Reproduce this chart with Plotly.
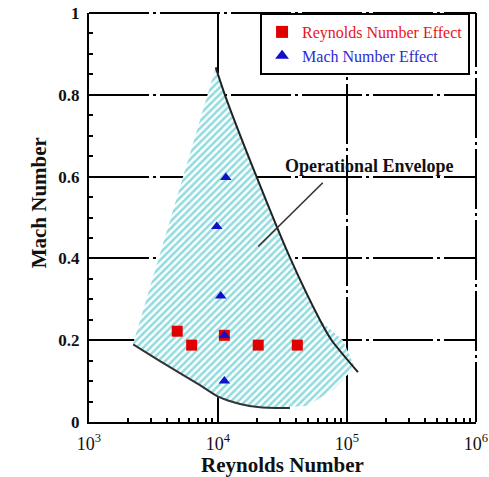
import plotly.graph_objects as go

# Test points
re_reynolds = [4830, 6250, 11200, 20500, 41200]
mach_reynolds = [0.222, 0.188, 0.212, 0.188, 0.188]

re_mach = [11500, 9780, 10500, 11200, 11200]
mach_mach = [0.598, 0.478, 0.308, 0.212, 0.100]

# Operational envelope (closed outline of the hatched region)
env_re = [9600, 11300, 20000, 36000, 61800, 93000, 115000, 78000, 48700,
          21200, 14830, 10050, 7250, 4000, 2200, 9600]
env_mach = [0.867, 0.80, 0.598, 0.403, 0.249, 0.20, 0.134, 0.078, 0.039,
            0.034, 0.042, 0.060, 0.088, 0.139, 0.192, 0.867]

# Boundary curves
upper_re = [9600, 11300, 20000, 36000, 61800, 76000, 121600]
upper_mach = [0.867, 0.80, 0.598, 0.403, 0.249, 0.20, 0.122]
lower_re = [2200, 4000, 7250, 10050, 14830, 21200, 36100]
lower_mach = [0.190, 0.139, 0.090, 0.062, 0.044, 0.036, 0.034]

# Leader line for the envelope label
leader_re = [64900, 20500]
leader_mach = [0.585, 0.429]

x_ticks = [1e3, 1e4, 1e5, 1e6]
x_labels = ["10<sup>3</sup>", "10<sup>4</sup>", "10<sup>5</sup>", "10<sup>6</sup>"]
x_minor = [m * 10 ** d for d in (3, 4, 5) for m in range(2, 10)]
y_ticks = [0, 0.2, 0.4, 0.6, 0.8, 1]
y_labels = ["0", "0.2", "0.4", "0.6", "0.8", "1"]

SERIF = "Liberation Serif"
GRID_DASH = "60px,4px,3px,4px"

fig = go.Figure()

fig.add_trace(go.Scatter(
    x=env_re, y=env_mach, mode="lines", fill="toself",
    line=dict(width=0), fillcolor="white",
    fillpattern=dict(shape="/", fgcolor="#1fb8be", bgcolor="white",
                     size=5, solidity=0.5),
    showlegend=False, hoverinfo="skip"))

fig.add_trace(go.Scatter(
    x=upper_re, y=upper_mach, mode="lines",
    line=dict(color="#222", width=2, shape="spline", smoothing=0.7),
    showlegend=False, hoverinfo="skip"))
fig.add_trace(go.Scatter(
    x=lower_re, y=lower_mach, mode="lines",
    line=dict(color="#333", width=2, shape="spline", smoothing=0.8),
    showlegend=False, hoverinfo="skip"))
fig.add_trace(go.Scatter(
    x=leader_re, y=leader_mach, mode="lines",
    line=dict(color="#333", width=1.6),
    showlegend=False, hoverinfo="skip"))

fig.add_trace(go.Scatter(
    x=re_reynolds, y=mach_reynolds, mode="markers",
    name="<span style='color:#e8141c'>Reynolds Number Effect</span>",
    marker=dict(symbol="square", size=11, color="#e00000")))
fig.add_trace(go.Scatter(
    x=re_mach, y=mach_mach, mode="markers",
    name="<span style='color:#2b2bd0'>Mach Number Effect</span>",
    marker=dict(symbol="triangle-up", size=10, color="#1010c8")))

fig.add_annotation(
    x=5.171, y=0.627, xref="x", yref="y", showarrow=False,
    text="<b>Operational Envelope</b>",
    font=dict(family=SERIF, size=18, color="#111"))

# y-axis title
fig.add_annotation(
    x=-0.165, y=0.535, xref="paper", yref="paper", showarrow=False,
    text="<b>Mach Number</b>", textangle=-90,
    font=dict(family=SERIF, size=21, color="#111"))

# Dashed top and right frame edges
fig.add_shape(type="line", xref="paper", yref="paper", x0=0, x1=1, y0=1, y1=1,
              line=dict(color="black", width=2, dash=GRID_DASH))
fig.add_shape(type="line", xref="paper", yref="paper", x0=1, x1=1, y0=0, y1=1,
              line=dict(color="black", width=2, dash=GRID_DASH))

fig.update_xaxes(
    type="log", range=[3, 6], tickvals=x_ticks, ticktext=x_labels,
    automargin=False,
    showgrid=True, gridcolor="black", gridwidth=2, griddash=GRID_DASH,
    showline=True, linecolor="black", linewidth=2,
    ticks="inside", ticklen=10, tickwidth=2, tickcolor="black",
    ticklabelstandoff=4,
    minor=dict(ticks="inside", ticklen=4, tickwidth=1.5, tickcolor="black",
               tickvals=x_minor, showgrid=False),
    tickfont=dict(family=SERIF, size=18, color="#111"),
    title=dict(text="<b>Reynolds Number</b>", standoff=0,
               font=dict(family=SERIF, size=21, color="#111")),
    zeroline=False)
fig.update_yaxes(
    range=[0, 1], tickvals=y_ticks, ticktext=["<b>%s</b>" % t for t in y_labels],
    automargin=False,
    showgrid=True, gridcolor="black", gridwidth=2, griddash=GRID_DASH,
    showline=True, linecolor="black", linewidth=2,
    ticks="inside", ticklen=8, tickwidth=2, tickcolor="black",
    ticklabelstandoff=4,
    minor=dict(ticks="inside", ticklen=4, tickwidth=1.5, tickcolor="black",
               dtick=0.05, showgrid=False),
    tickfont=dict(family=SERIF, size=17, color="#111"),
    zeroline=False)

fig.update_layout(
    width=489, height=477,
    margin=dict(l=89, r=13, t=13, b=55, autoexpand=False),
    paper_bgcolor="white", plot_bgcolor="white",
    showlegend=True,
    legend=dict(x=0.442, y=1.0, xanchor="left", yanchor="top",
                bgcolor="white", bordercolor="black", borderwidth=2,
                font=dict(family=SERIF, size=16),
                tracegroupgap=0, itemsizing="constant"),
)

fig.write_html("out.html")
